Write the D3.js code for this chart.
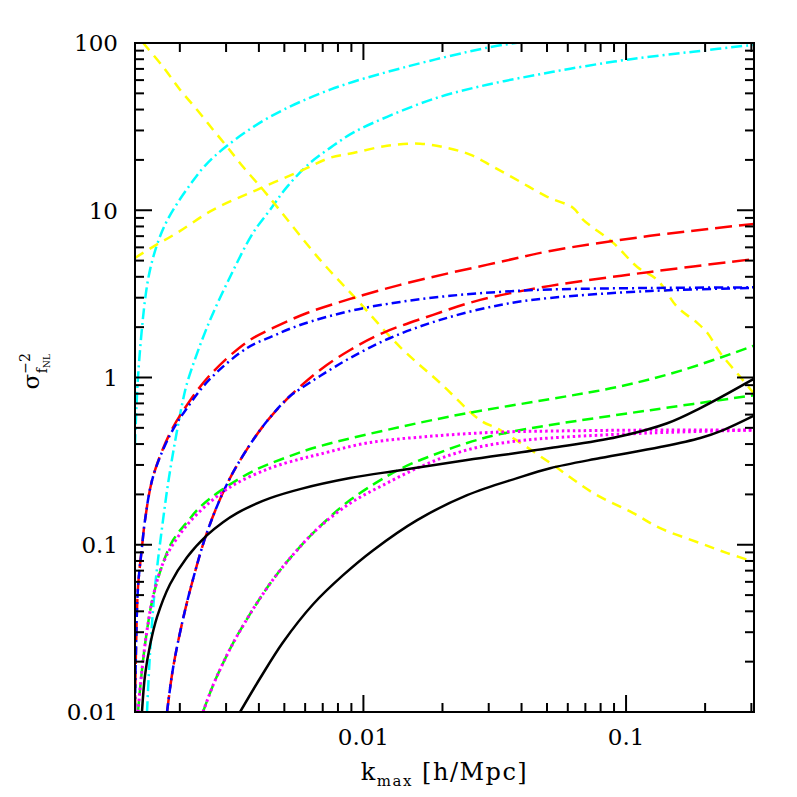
<!DOCTYPE html>
<html>
<head>
<meta charset="utf-8">
<script src="https://cdn.jsdelivr.net/npm/d3@7"></script>
<style>
  body { margin: 0; background: #fff; }
  text { font-family: "DejaVu Serif", "Liberation Serif", serif; fill: #000; }
</style>
</head>
<body>
<div id="chart"></div>
<script>
// curves: [k_max, sigma^-2]
const cyanUpper = [[0.00135,0.395],[0.001386,1.007],[0.001474,2.91],[0.00154,4.40],[0.001637,6.21],[0.001756,8.18],
  [0.001918,10.48],[0.002187,14.19],[0.002492,18.44],[0.003025,24.3],[0.004411,36.2],[0.00747,52.6],[0.01416,71.2],
  [0.02959,93.7],[0.03851,100.4]];
const cyanLower = [[0.0015,0.01],[0.00154,0.0225],[0.001609,0.0558],[0.001726,0.1404],[0.001835,0.2757],[0.002056,0.733],
  [0.002149,0.966],[0.00254,2.0],[0.003106,3.99],[0.0038,7.32],[0.004411,10.06],[0.005119,13.8],[0.006266,19.2],
  [0.00747,23.6],[0.00914,29.1],[0.01231,36.2],[0.01909,47.1],[0.02959,56.3],[0.04589,64.6],[0.06131,70.2],
  [0.1011,79.5],[0.1803,88.7],[0.3103,97.8]];
const yellowFalling = [[0.001448,100.3],[0.001726,72.1],[0.002003,52.6],[0.002325,39.9],[0.002676,30.3],[0.003025,24.0],
  [0.003481,18.2],[0.004149,13.25],[0.00469,10.48],[0.00684,5.05],[0.00946,2.91],[0.0138,1.52],[0.0196,0.927],
  [0.02784,0.556],[0.03318,0.485],[0.05143,0.308],[0.07499,0.204],[0.1065,0.1546],[0.1349,0.1256],[0.1918,0.1021],
  [0.2428,0.0891],[0.3103,0.0787]];
const yellowPeak = [[0.00135,5.19],[0.00158,6.04],[0.001952,7.32],[0.002676,10.06],[0.003936,13.25],[0.005893,17.45],
  [0.00747,20.6],[0.00914,22.0],[0.01231,24.3],[0.01644,25.0],[0.02084,23.6],[0.0255,21.5],[0.0312,18.2],
  [0.03954,14.8],[0.0501,12.03],[0.06294,10.33],[0.0687,8.76],[0.08938,6.38],[0.1103,4.58],[0.1315,3.83],
  [0.1567,2.64],[0.1866,2.12],[0.2038,1.85],[0.2285,1.40],[0.2723,1.007],[0.3103,0.785]];
const redUpper = [[0.00135,0.01],[0.001361,0.0225],[0.001386,0.0558],[0.001435,0.0966],[0.001474,0.1404],[0.00158,0.254],
  [0.001835,0.4655],[0.00213,0.6845],[0.002606,1.035],[0.003606,1.631],[0.004529,1.978],[0.006102,2.43],[0.0089,2.95],
  [0.0138,3.58],[0.0214,4.22],[0.03318,4.91],[0.05143,5.71],[0.1236,7.03],[0.3103,8.29]];
const blueUpper = [[0.00135,0.01],[0.001361,0.0225],[0.001386,0.0558],[0.001435,0.0966],[0.001474,0.1404],[0.00158,0.254],
  [0.001835,0.453],[0.00213,0.657],[0.002606,0.98],[0.003606,1.50],[0.004529,1.771],[0.005738,2.06],[0.0089,2.50],
  [0.0138,2.83],[0.0214,3.08],[0.03318,3.25],[0.05143,3.36],[0.1236,3.43],[0.3103,3.46]];
const redLower = [[0.001788,0.01],[0.001884,0.01826],[0.002056,0.0359],[0.002245,0.0622],[0.00254,0.119],[0.003025,0.231],
  [0.003606,0.3733],[0.004297,0.549],[0.005256,0.775],[0.00684,1.11],[0.0089,1.461],[0.01189,1.85],[0.01843,2.37],
  [0.02784,2.91],[0.05143,3.53],[0.1236,4.28],[0.3103,5.12]];
const blueLower = [[0.001788,0.01],[0.001884,0.01826],[0.002056,0.0359],[0.002245,0.0622],[0.00254,0.119],[0.003025,0.231],
  [0.003606,0.3733],[0.004297,0.549],[0.005256,0.775],[0.005738,0.853],[0.00684,1.021],[0.0089,1.308],[0.01264,1.723],
  [0.0196,2.21],[0.03318,2.716],[0.05143,2.99],[0.1236,3.29],[0.3103,3.43]];
const greenUpper = [[0.001386,0.01],[0.001435,0.0178],[0.0015,0.0308],[0.00158,0.0486],[0.001726,0.0776],[0.001884,0.1065],
  [0.00213,0.1365],[0.002387,0.168],[0.002844,0.2093],[0.0038,0.2757],[0.005119,0.334],[0.00684,0.389],[0.0138,0.506],
  [0.02483,0.612],[0.05143,0.743],[0.09258,0.877],[0.1652,1.11],[0.3103,1.56]];
const magentaUpper = [[0.001386,0.01],[0.001435,0.0178],[0.0015,0.0308],[0.00158,0.0486],[0.001726,0.0776],[0.001952,0.1095],
  [0.002325,0.1524],[0.003106,0.221],[0.004411,0.287],[0.005738,0.3253],[0.00684,0.3485],[0.01033,0.406],[0.01843,0.4467],
  [0.03318,0.472],[0.05143,0.4783],[0.1236,0.485],[0.3103,0.485]];
const greenLower = [[0.00245,0.01],[0.002676,0.01445],[0.00292,0.01956],[0.003188,0.02577],[0.003543,0.0344],[0.004042,0.0479],
  [0.00469,0.0667],[0.005589,0.0928],[0.006662,0.124],[0.0089,0.185],[0.0138,0.2835],[0.01843,0.344],[0.02483,0.406],
  [0.03318,0.459],[0.05143,0.5196],[0.1236,0.638],[0.3103,0.785]];
const magentaLower = [[0.00245,0.01],[0.002676,0.01445],[0.00292,0.01956],[0.003188,0.02577],[0.003543,0.0344],[0.004042,0.0479],
  [0.00469,0.0667],[0.005589,0.0928],[0.006662,0.124],[0.0089,0.177],[0.01189,0.2274],[0.01602,0.287],[0.0214,0.344],
  [0.02858,0.389],[0.03851,0.417],[0.05143,0.435],[0.1236,0.466],[0.3103,0.485]];
const blackUpper = [[0.001435,0.01],[0.001474,0.01659],[0.00154,0.02506],[0.001637,0.0369],[0.001835,0.0581],[0.00213,0.0843],
  [0.00254,0.1142],[0.00292,0.1365],[0.003303,0.1546],[0.0038,0.1726],[0.004411,0.19],[0.005738,0.2151],[0.0089,0.2504],
  [0.0138,0.279],[0.02483,0.321],[0.05143,0.3787],[0.09258,0.441],[0.1435,0.533],[0.1918,0.657],[0.3103,0.993]];
const blackLower = [[0.003391,0.01],[0.004042,0.01591],[0.004943,0.02614],[0.006433,0.0441],[0.008369,0.0658],[0.0109,0.0928],
  [0.01602,0.1404],[0.02483,0.198],[0.03851,0.2504],[0.05143,0.287],[0.07973,0.33],[0.1349,0.384],[0.1918,0.435],
  [0.2345,0.485],[0.3103,0.596]];

// tick values
const xMajorTicks = [0.01, 0.1];
const xTickLabels = ["0.01", "0.1"];
const xMinorTicks = [0.002,0.003,0.004,0.005,0.006,0.007,0.008,0.009,0.02,0.03,0.04,0.05,0.06,0.07,0.08,0.09,0.2,0.3];
const yMajorTicks = [0.01, 0.1, 1, 10, 100];
const yTickLabels = ["0.01", "0.1", "1", "10", "100"];
const yMinorTicks = [];
[0.01, 0.1, 1, 10].forEach(d => { for (let m = 2; m <= 9; m++) yMinorTicks.push(+(d * m).toPrecision(2)); });

// series styling
const series = [
  { data: cyanUpper, color: "#00ffff", dash: "11,4,2,4" },
  { data: cyanLower, color: "#00ffff", dash: "11,4,2,4" },
  { data: yellowFalling, color: "#ffff00", dash: "10,7" },
  { data: yellowPeak, color: "#ffff00", dash: "10,7" },
  { data: redUpper, color: "#ff0000", dash: "17,7" },
  { data: redLower, color: "#ff0000", dash: "17,7" },
  { data: blueUpper, color: "#0000ff", dash: "9,4,2,4" },
  { data: blueLower, color: "#0000ff", dash: "9,4,2,4" },
  { data: greenUpper, color: "#00ff00", dash: "11,6" },
  { data: greenLower, color: "#00ff00", dash: "11,6" },
  { data: magentaUpper, color: "#ff00ff", dash: "2.5,3" },
  { data: magentaLower, color: "#ff00ff", dash: "2.5,3" },
  { data: blackUpper, color: "#000000", dash: null },
  { data: blackLower, color: "#000000", dash: null }
];

const margin = { top: 43, right: 43, bottom: 85, left: 135 },
    width = 797 - margin.left - margin.right,
    height = 797 - margin.top - margin.bottom;

const svg = d3.select("#chart")
    .append("svg")
    .attr("width", 797)
    .attr("height", 797)
    .append("g")
    .attr("transform", `translate(${margin.left},${margin.top})`);

const x = d3.scaleLog().domain([0.00135, 0.307]).range([0, width]);
const y = d3.scaleLog().domain([0.01, 100]).range([height, 0]);

svg.append("clipPath").attr("id", "clip")
    .append("rect").attr("width", width).attr("height", height);

// smooth curves through the read points
const line = d3.line()
    .x(d => x(d[0]))
    .y(d => y(d[1]))
    .curve(d3.curveCatmullRom.alpha(0.5));

svg.append("g")
    .attr("clip-path", "url(#clip)")
    .selectAll("path")
    .data(series)
    .join("path")
    .attr("d", d => line(d.data))
    .attr("fill", "none")
    .attr("stroke", d => d.color)
    .attr("stroke-width", d => d.color === "#ff00ff" ? 3 : 2.5)
    .attr("stroke-dasharray", d => d.dash);

// frame
svg.append("rect")
    .attr("width", width)
    .attr("height", height)
    .attr("fill", "none")
    .attr("stroke", "black")
    .attr("stroke-width", 2);

// ticks on all four sides, pointing inward
const ticks = svg.append("g").attr("stroke", "black").attr("stroke-width", 2);
function xTicks(vals, len) {
  vals.forEach(v => {
    ticks.append("line").attr("x1", x(v)).attr("x2", x(v)).attr("y1", height).attr("y2", height - len);
    ticks.append("line").attr("x1", x(v)).attr("x2", x(v)).attr("y1", 0).attr("y2", len);
  });
}
function yTicks(vals, len) {
  vals.forEach(v => {
    ticks.append("line").attr("y1", y(v)).attr("y2", y(v)).attr("x1", 0).attr("x2", len);
    ticks.append("line").attr("y1", y(v)).attr("y2", y(v)).attr("x1", width).attr("x2", width - len);
  });
}
xTicks(xMajorTicks, 17);
xTicks(xMinorTicks, 9);
yTicks(yMajorTicks, 17);
yTicks(yMinorTicks, 9);

// tick labels
svg.selectAll(".ylab")
    .data(yMajorTicks)
    .join("text")
    .attr("x", -17)
    .attr("y", d => y(d))
    .attr("dy", "0.36em")
    .attr("text-anchor", "end")
    .style("font-size", "23px")
    .text((d, i) => yTickLabels[i]);

svg.selectAll(".xlab")
    .data(xMajorTicks)
    .join("text")
    .attr("x", d => x(d))
    .attr("y", height + 33)
    .attr("text-anchor", "middle")
    .style("font-size", "23px")
    .text((d, i) => xTickLabels[i]);

// x axis title
const xt = svg.append("text")
    .attr("x", width / 2)
    .attr("y", height + 68)
    .attr("text-anchor", "middle")
    .style("font-size", "24px")
    .style("letter-spacing", "1.5px");
xt.append("tspan").text("k");
xt.append("tspan").attr("dy", 6).style("font-size", "15px").text("max");
xt.append("tspan").attr("dy", -6).text(" [h/Mpc]");

// y axis title: sigma_{f_NL}^{-2}
const yt = svg.append("text")
    .attr("transform", `translate(${-96},${y(1) + 12}) rotate(-90)`)
    .style("font-size", "23px");
yt.append("tspan").text("σ");
yt.append("tspan").attr("dy", -9).style("font-size", "14px").text("−2");
yt.append("tspan").attr("dx", -20).attr("dy", 17).style("font-size", "14px").text("f");
yt.append("tspan").attr("dy", 3).style("font-size", "9px").text("NL");
</script>
</body>
</html>
